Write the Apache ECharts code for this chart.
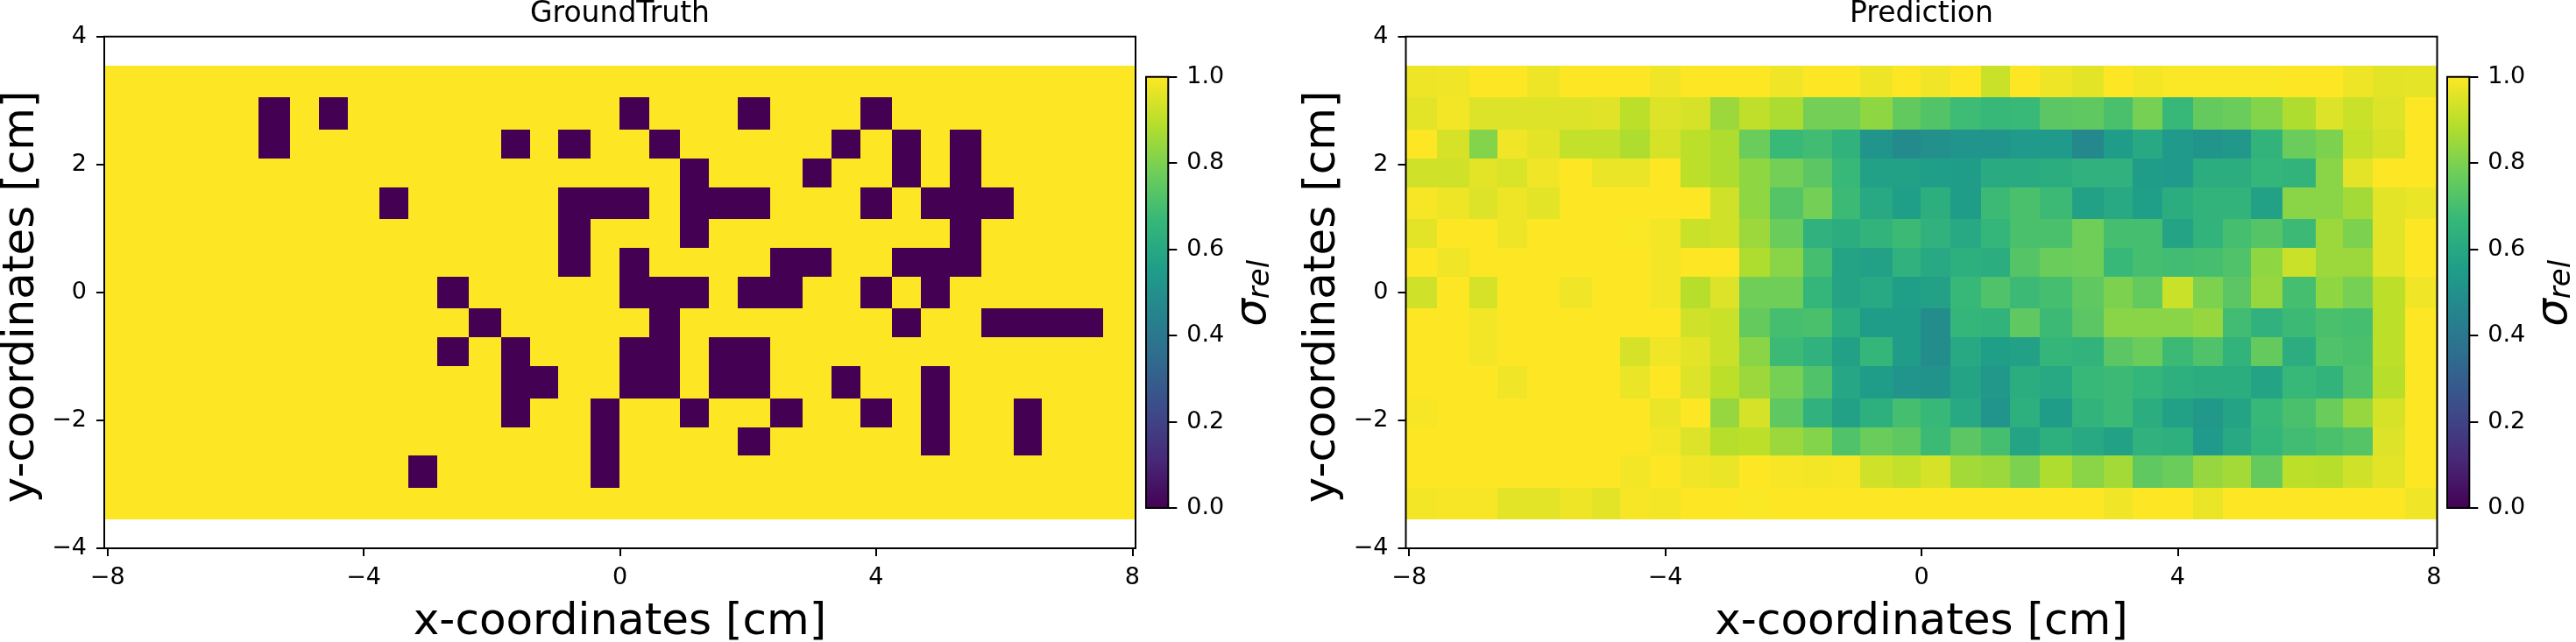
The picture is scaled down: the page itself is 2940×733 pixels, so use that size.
<!DOCTYPE html>
<html>
<head>
<meta charset="utf-8">
<style>html,body{margin:0;padding:0;background:#fff}#c{width:2940px;height:733px}</style>
<script src="https://cdn.jsdelivr.net/npm/echarts@6/dist/echarts.min.js"></script>
</head>
<body>
<div id="c"></div>
<script>
const titles = ['GroundTruth', 'Prediction'];
const xLabel = 'x-coordinates [cm]';
const yLabel = 'y-coordinates [cm]';
const xTicks = [-8, -4, 0, 4, 8];
const yTicks = [-4, -2, 0, 2, 4];
const xLimit = [-8.05, 8.05];
const yLimit = [-4, 4];

// Cell edges in cm (the source raster is slightly uneven)
const xEdges = [-8.05,-7.558,-7.065,-6.614,-6.162,-5.643,-5.15,-4.699,-4.247,-3.755,-3.303,-2.852,-2.36,-1.853,-1.402,-0.964,-0.458,-0.007,0.458,0.937,1.388,1.84,2.346,2.852,3.303,3.755,4.247,4.699,5.15,5.642,6.149,6.586,7.038,7.544,8.05];
const yEdges = [3.55,3.052,2.546,2.094,1.642,1.149,0.697,0.245,-0.247,-0.699,-1.151,-1.658,-2.109,-2.548,-3.054,-3.55];

// GroundTruth: dark column indices for each row, top row first
const darkCols = [
  [],
  [5, 7, 17, 21, 25],
  [5, 13, 15, 18, 24, 26, 28],
  [19, 23, 26, 28],
  [9, 15, 16, 17, 19, 20, 21, 25, 27, 28, 29],
  [15, 19, 28],
  [15, 17, 22, 23, 26, 27, 28],
  [11, 17, 18, 19, 21, 22, 25, 27],
  [12, 18, 26, 29, 30, 31, 32],
  [11, 13, 17, 18, 20, 21],
  [13, 14, 17, 18, 20, 21, 24, 27],
  [13, 16, 19, 22, 25, 27, 30],
  [16, 21, 27, 30],
  [10, 16],
  []
];

// Prediction: relative conductivity per cell, top row first
const pred0 = [.975,.98,1,1,.975,1,1,1,.98,1,1,1,.98,1,1,.975,1,.98,1,.92,1,.975,.96,1,.985,.995,.995,.995,.995,1,1,.975,.96,.965];
const pred1 = [.96,.985,.95,.95,.95,.95,.955,.9,.95,.94,.85,.905,.875,.785,.785,.83,.755,.725,.685,.67,.675,.74,.75,.71,.79,.67,.76,.77,.81,.88,.95,.92,.95,1];
const pred2 = [1,.94,.81,.98,.96,.91,.91,.88,.94,.9,.88,.77,.675,.69,.645,.52,.48,.5,.52,.52,.54,.54,.47,.55,.6,.54,.52,.53,.65,.77,.8,.91,.94,1];
const pred3 = [.93,.93,.96,.945,.98,1,.97,.97,1,.9,.88,.83,.785,.74,.67,.57,.57,.56,.55,.61,.61,.62,.64,.64,.55,.54,.62,.62,.66,.65,.82,.96,1,1];
const pred4 = [.99,.975,.95,.975,.96,1,1,1,1,1,.93,.83,.73,.785,.68,.6,.56,.625,.55,.68,.71,.68,.57,.6,.56,.62,.65,.65,.57,.82,.82,.86,.96,.97];
const pred5 = [.96,1,1,.975,1,1,1,.995,.985,.92,.93,.85,.77,.64,.62,.65,.68,.64,.6,.66,.71,.71,.78,.7,.7,.58,.65,.7,.73,.68,.85,.8,.96,1];
const pred6 = [1,.98,1,1,1,1,1,1,.985,1,1,.88,.82,.7,.58,.57,.64,.6,.63,.62,.73,.77,.78,.67,.7,.69,.7,.72,.83,.92,.85,.85,.96,1];
const pred7 = [.93,1,.94,1,1,.98,1,1,.985,.89,.95,.78,.78,.66,.58,.6,.56,.57,.67,.72,.68,.7,.75,.8,.76,.92,.8,.74,.84,.7,.83,.79,.9,.98];
const pred8 = [1,1,.985,1,1,1,1,1,1,.93,.92,.76,.7,.71,.62,.55,.55,.49,.66,.65,.75,.68,.74,.82,.82,.82,.84,.69,.64,.68,.71,.7,.9,1];
const pred9 = [1,1,.985,1,1,1,1,.94,.98,.96,.92,.82,.68,.64,.57,.66,.55,.49,.6,.56,.57,.66,.65,.74,.77,.68,.72,.65,.76,.62,.72,.71,.9,1];
const pred10 = [1,1,1,.98,1,1,1,.97,1,.95,.9,.85,.79,.72,.59,.55,.52,.51,.58,.53,.62,.6,.67,.68,.66,.63,.62,.62,.58,.67,.65,.72,.89,1];
const pred11 = [.99,1,1,1,1,1,1,1,.97,1,.84,.94,.75,.64,.57,.63,.7,.67,.6,.52,.63,.55,.65,.68,.62,.57,.53,.58,.67,.71,.77,.84,.94,1];
const pred12 = [1,1,1,1,1,1,1,1,.985,.95,.89,.9,.85,.81,.72,.77,.75,.68,.74,.7,.58,.63,.6,.57,.64,.63,.54,.6,.66,.69,.71,.73,.95,1];
const pred13 = [1,1,1,1,1,1,1,.985,1,.98,.97,1,.99,.985,.99,.93,.91,.94,.86,.85,.8,.88,.82,.86,.75,.77,.84,.86,.76,.9,.89,.93,.96,1];
const pred14 = [.985,.99,.99,.96,.96,.975,.96,.99,.985,1,1,.995,1,1,1,1,1,1,1,1,1,1,1,.98,1,1,.97,1,1,1,1,1,1,.98];
const prediction = [pred0,pred1,pred2,pred3,pred4,pred5,pred6,pred7,pred8,pred9,pred10,pred11,pred12,pred13,pred14];

const viridis = ['#440154','#482878','#3e4989','#31688e','#26828e','#1f9e89','#35b779','#6ece58','#b5de2b','#fde725'];

const groundTruth = darkCols.map(cols => prediction[0].map((_, c) => cols.includes(c) ? 0 : 1));
function toCells(rows) {
  const out = [];
  rows.forEach((row, r) => row.forEach((v, c) => {
    out.push([(xEdges[c] + xEdges[c + 1]) / 2, (yEdges[r] + yEdges[r + 1]) / 2, v, c, r]);
  }));
  return out;
}
const font = 'DejaVu Sans';
const fmt = v => String(v).replace('-', '\u2212');
const panels = [
  {left: 119, bar: 1308, title: titles[0], rows: groundTruth},
  {left: 1604.5, bar: 2793, title: titles[1], rows: prediction}
];
const plotTop = 41.7, plotH = 584.3, plotW = 1177, barTop = 87.7, barH = 492.3, barW = 25.3;

const renderCell = (params, api) => {
  const c = api.value(3), r = api.value(4);
  const a = api.coord([xEdges[c], yEdges[r]]);
  const b = api.coord([xEdges[c + 1], yEdges[r + 1]]);
  const x0 = Math.round(a[0]), y0 = Math.round(a[1]), x1 = Math.round(b[0]), y1 = Math.round(b[1]);
  return {type: 'rect', shape: {x: x0, y: y0, width: x1 - x0, height: y1 - y0},
    style: {fill: api.visual('color')}};
};

const option = {
  backgroundColor: '#fff', animation: false,
  title: [], grid: [], xAxis: [], yAxis: [], series: [],
  visualMap: [{show: false, min: 0, max: 1, dimension: 2, seriesIndex: [0, 2], inRange: {color: viridis}}]
};
const border = {show: true, borderColor: '#000', borderWidth: 2, backgroundColor: 'transparent', containLabel: false, outerBoundsMode: 'none'};
panels.forEach((p, i) => {
  option.title.push({text: p.title, left: p.left + plotW / 2, top: 0, padding: 0, textAlign: 'center',
    textStyle: {fontFamily: font, fontSize: 33, fontWeight: 'normal', color: '#000'}});
  option.grid.push({...border, left: p.left, top: plotTop, width: plotW, height: plotH});
  option.grid.push({...border, left: p.bar, top: barTop, width: barW, height: barH});
  const g = i * 2;
  option.xAxis.push({
    gridIndex: g, type: 'value', min: xLimit[0], max: xLimit[1], splitLine: {show: false},
    axisLine: {show: false, onZero: false},
    axisTick: {show: true, length: 9, lineStyle: {color: '#000', width: 2}, customValues: xTicks},
    axisLabel: {fontFamily: font, fontSize: 27, color: '#000', margin: 20, customValues: xTicks, formatter: fmt, hideOverlap: false},
    name: xLabel, nameLocation: 'middle', nameGap: 60,
    nameTextStyle: {fontFamily: font, fontSize: 50, color: '#000'}
  });
  option.yAxis.push({
    gridIndex: g, type: 'value', min: yLimit[0], max: yLimit[1], splitLine: {show: false},
    axisLine: {show: false, onZero: false},
    axisTick: {show: true, length: 9, lineStyle: {color: '#000', width: 2}, customValues: yTicks},
    axisLabel: {fontFamily: font, fontSize: 27, color: '#000', margin: 20, customValues: yTicks, formatter: fmt},
    name: yLabel, nameLocation: 'middle', nameGap: 69, nameRotate: 90,
    nameTextStyle: {fontFamily: font, fontSize: 50, color: '#000', padding: [0, 10, 0, 0]}
  });
  option.xAxis.push({gridIndex: g + 1, type: 'category', data: [''], show: false, boundaryGap: true});
  option.yAxis.push({
    gridIndex: g + 1, type: 'value', position: 'right', min: 0, max: 1, interval: 0.2, splitLine: {show: false},
    axisLine: {show: false, onZero: false},
    axisTick: {show: true, length: 10, lineStyle: {color: '#000', width: 2}},
    axisLabel: {fontFamily: font, fontSize: 27, color: '#000', margin: 21, formatter: v => v.toFixed(1)},
    name: '{s|\u03c3}{r|rel}', nameLocation: 'middle', nameGap: 73, nameRotate: 90,
    nameTextStyle: {fontFamily: font, color: '#000', padding: [0, 2, 0, 0],
      rich: {s: {fontFamily: font, fontStyle: 'italic', fontSize: 50, lineHeight: 50, color: '#000'},
             r: {fontFamily: font, fontStyle: 'italic', fontSize: 34, lineHeight: 22, color: '#000', verticalAlign: 'bottom'}}}
  });
  option.series.push({type: 'custom', xAxisIndex: g, yAxisIndex: g, z: -1, clip: true,
    coordinateSystem: 'cartesian2d', encode: {x: 0, y: 1}, renderItem: renderCell, data: toCells(p.rows)});
  option.series.push({type: 'bar', xAxisIndex: g + 1, yAxisIndex: g + 1, z: -1, barWidth: '100%', silent: true,
    data: [1],
    itemStyle: {color: {type: 'linear', x: 0, y: 1, x2: 0, y2: 0,
      colorStops: viridis.map((c, k) => ({offset: k / (viridis.length - 1), color: c}))}}});
});
const chart = echarts.init(document.getElementById('c'), null, {renderer: 'canvas', width: 2940, height: 733});
chart.setOption(option);
</script>
</body>
</html>
